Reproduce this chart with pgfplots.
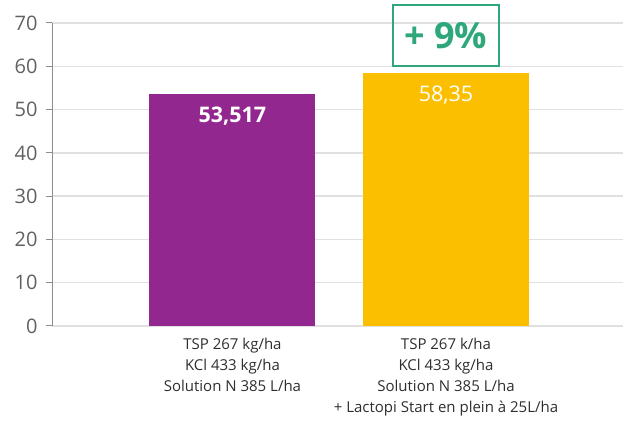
\documentclass[border=0pt]{standalone}
\usepackage{pgfplots}
\pgfplotsset{compat=1.18}
\usepackage{fontspec}
\setmainfont{Open Sans}
\definecolor{purp}{HTML}{92278F}
\definecolor{gold}{HTML}{FCBF00}
\definecolor{grn}{HTML}{2EA87A}
\begin{document}
\begin{tikzpicture}
\begin{axis}[name=ax, scale only axis, width=571pt, height=303pt,
 xmin=-0.845, xmax=1.829, ymin=0, ymax=70, clip=false,
 ytick={0,10,...,70}, xtick={0,1},
 xticklabels={{TSP 267 kg/ha\\KCl 433 kg/ha\\Solution N 385 L/ha},
   {TSP 267 k/ha\\KCl 433 kg/ha\\Solution N 385 L/ha\\+ Lactopi Start en plein à 25L/ha}},
 axis line style={draw=none},
 ymajorgrids, grid style={color=black!12, line width=1.3pt},
 ytick pos=left, tick align=outside, major tick length=6pt,
 ytick style={black!45, line width=1pt}, xtick style={draw=none},
 /pgf/number format/assume math mode=true,
 yticklabel style={font=\fontsize{20}{20}\selectfont, text=black!62, xshift=-5pt},
 xticklabel style={font=\fontsize{15}{21}\selectfont, align=center, text=black!82, yshift=-3pt},
 ybar, bar width=0.7775, bar shift=0pt,
 nodes near coords, point meta=explicit symbolic,
 every node near coord/.append style={anchor=center, yshift=-22pt, text=white},
]
\addplot[fill=purp, draw=none, nodes near coords style={font=\fontsize{21.5}{21.5}\selectfont\bfseries}]
  coordinates {(0,53.517) [53,517]};
\addplot[fill=gold, draw=none, nodes near coords style={font=\fontsize{21.5}{21.5}\selectfont}]
  coordinates {(1,58.35) [58,35]};
\node[draw=grn, line width=1.3pt, minimum width=106pt, minimum height=61pt, text=grn,
  font=\fontsize{36}{36}\selectfont\bfseries, inner sep=0pt] at (axis cs:1,67.1) {+ 9\%};
\end{axis}
\draw[black!45, line width=1pt] (ax.south west) -- (ax.north west);
\pgfresetboundingbox
\path ([shift={(-52pt,-95pt)}]ax.south west) rectangle ([shift={(0pt,23pt)}]ax.north east);
\end{tikzpicture}
\end{document}
